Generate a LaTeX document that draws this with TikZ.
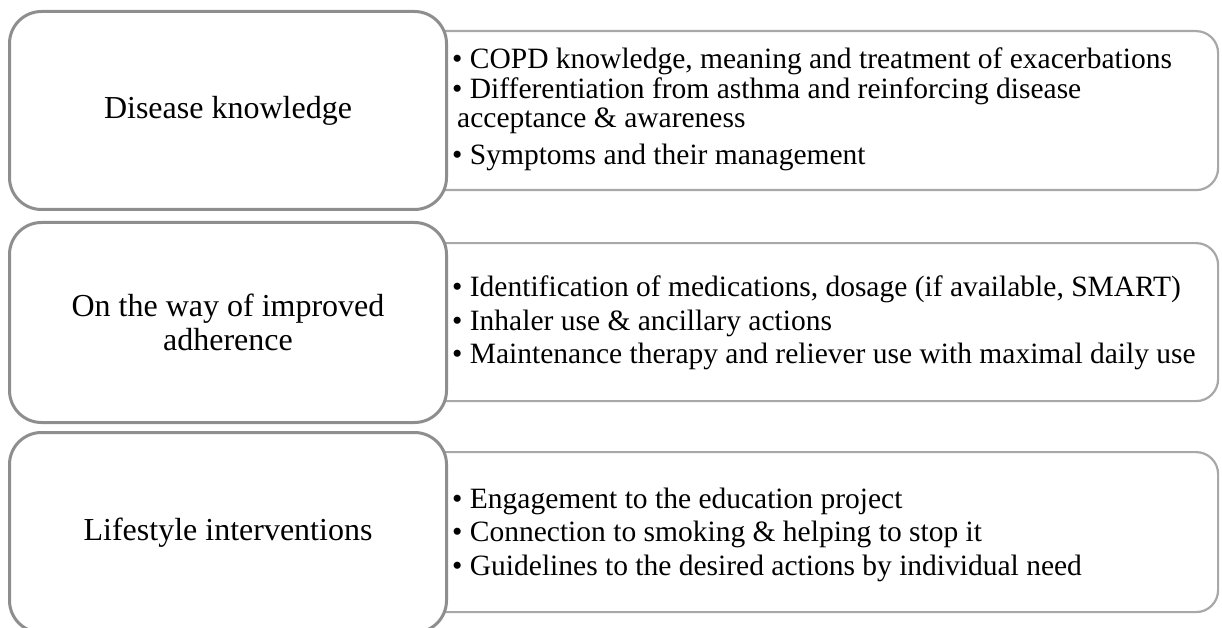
\documentclass[tikz,border=0pt]{standalone}
\usepackage{fontspec}
\setmainfont{Liberation Serif}
\definecolor{topicgray}{HTML}{8E8E8E}
\definecolor{detailgray}{HTML}{A8A8A8}
\begin{document}
\begin{tikzpicture}[x=1pt,y=-1pt,
  topic/.style={draw=topicgray, line width=3pt, rounded corners=32pt, fill=white,
    anchor=north west, minimum width=437pt, inner sep=0pt,
    font=\fontsize{32}{34}\selectfont, align=center},
  detail/.style={draw=detailgray, line width=2.2pt, rounded corners=22pt, fill=white,
    anchor=north west, minimum width=797pt, inner sep=0pt},
  item/.style={anchor=base west, inner sep=0pt, font=\fontsize{29.5}{32}\selectfont}]
\useasboundingbox (0,0) rectangle (1222,628);

% detail panels behind the topic boxes
\node[detail, minimum height=159pt] (d1) at (420,30) {};
\node[detail, minimum height=158pt] (d2) at (420,242) {};
\node[detail, minimum height=160pt] (d3) at (420,451) {};

% topic boxes
\node[topic, minimum height=198pt] (t1) at (8,10) {Disease knowledge};
\node[topic, minimum height=200pt] (t2) at (8,221) {On the way of improved\\adherence};
\node[topic, minimum height=200pt] (t3) at (8,431) {Lifestyle interventions};

% bullet items
\node[item] (a1) at (452,69) {• COPD knowledge, meaning and treatment of exacerbations};
\node[item] (a2) at (452,99) {• Differentiation from asthma and reinforcing disease};
\node[item] (a3) at (457,128) {acceptance \& awareness};
\node[item] (a4) at (452,165) {• Symptoms and their management};

\node[item] (b1) at (452,296) {• Identification of medications, dosage (if available, SMART)};
\node[item] (b2) at (452,330) {• Inhaler use \& ancillary actions};
\node[item] (b3) at (452,363) {• Maintenance therapy and reliever use with maximal daily use};

\node[item] (c1) at (452,508) {• Engagement to the education project};
\node[item] (c2) at (452,541) {• Connection to smoking \& helping to stop it};
\node[item] (c3) at (452,575) {• Guidelines to the desired actions by individual need};
\end{tikzpicture}
\end{document}
